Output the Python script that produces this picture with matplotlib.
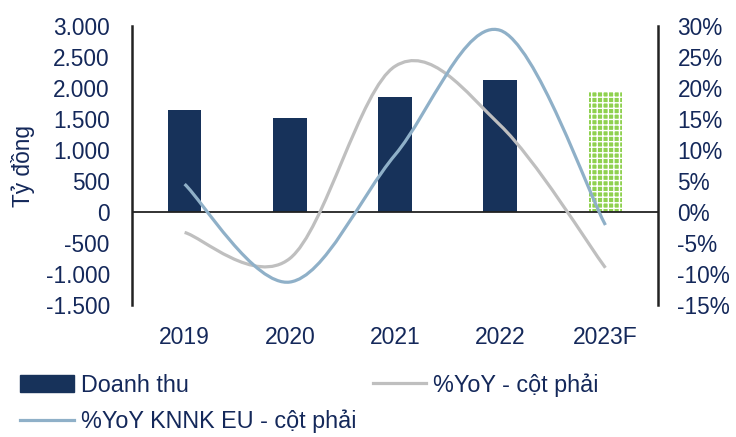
import matplotlib
matplotlib.use("Agg")
import matplotlib.pyplot as plt
from matplotlib.path import Path
from matplotlib.patches import PathPatch
from matplotlib.lines import Line2D
from matplotlib.patches import Patch
import numpy as np

plt.rcParams['font.family'] = ['Liberation Sans', 'DejaVu Sans']
plt.rcParams['hatch.linewidth'] = 1.0

# du lieu
years = ["2019", "2020", "2021", "2022", "2023F"]
doanh_thu = [1645, 1516, 1860, 2130, 1935]
yoy = [-3.3, -7.5, 23.5, 14.0, -9.0]
yoy_eu = [4.5, -11.3, 9.2, 29.3, -2.1]

left_ticks = [3000, 2500, 2000, 1500, 1000, 500, 0, -500, -1000, -1500]
left_labels = ["3.000", "2.500", "2.000", "1.500", "1.000", "500", "0",
               "-500", "-1.000", "-1.500"]
right_ticks = [30, 25, 20, 15, 10, 5, 0, -5, -10, -15]
right_labels = ["30%", "25%", "20%", "15%", "10%", "5%", "0%", "-5%", "-10%", "-15%"]

navy = '#17325A'
txt = '#14285A'
gray = '#BFBFBF'
blue = '#8FB0C8'
green = '#8FD14F'


def smooth_path(xs, ys):
    # duong cong kieu Excel (Bezier tu Catmull-Rom)
    pts = np.column_stack([xs, ys]).astype(float)
    n = len(pts)
    verts = [pts[0]]
    codes = [Path.MOVETO]
    for i in range(n - 1):
        p0 = pts[i - 1] if i > 0 else pts[i]
        p1 = pts[i]
        p2 = pts[i + 1]
        p3 = pts[i + 2] if i + 2 < n else pts[i + 1]
        c1 = p1 + (p2 - p0) / 6.0
        c2 = p2 - (p3 - p1) / 6.0
        verts += [c1, c2, p2]
        codes += [Path.CURVE4] * 3
    return Path(verts, codes)


fig = plt.figure(figsize=(7.36, 4.37), dpi=100)
ax = fig.add_axes([132 / 736, 1 - 305 / 437, 526 / 736, 279 / 437])

x = np.arange(len(years))
bars = ax.bar(x, doanh_thu, width=0.32, color=navy, zorder=2)
bars[-1].set_facecolor(green)
bars[-1].set_edgecolor('white')
bars[-1].set_hatch('+++')
bars[-1].set_linewidth(0)

ax.set_xlim(-0.5, len(years) - 0.5)
ax.set_ylim(-1500, 3000)
ax.set_yticks(left_ticks)
ax.set_yticklabels(left_labels)
ax.axhline(0, color='#222222', lw=1.3, zorder=3)

ax.set_xticks(x)
ax.set_xticklabels(years)
ax.tick_params(axis='x', length=0, pad=15, labelsize=16.5, labelcolor=txt)
ax.tick_params(axis='y', length=0, pad=16, labelsize=16.3, labelcolor=txt)
for s in ['top', 'bottom', 'right']:
    ax.spines[s].set_visible(False)
ax.spines['left'].set_linewidth(1.8)
ax.spines['left'].set_color('#222222')

ax2 = ax.twinx()
ax2.set_ylim(-15, 30)
ax2.set_yticks(right_ticks)
ax2.set_yticklabels(right_labels)
ax2.tick_params(axis='y', length=0, pad=14, labelsize=16.3, labelcolor=txt)
for s in ['top', 'bottom', 'left']:
    ax2.spines[s].set_visible(False)
ax2.spines['right'].set_linewidth(1.8)
ax2.spines['right'].set_color('#222222')

ax2.add_patch(PathPatch(smooth_path(x, yoy), fill=False, edgecolor=gray,
                        lw=2.3, capstyle='butt', zorder=4))
ax2.add_patch(PathPatch(smooth_path(x, yoy_eu), fill=False, edgecolor=blue,
                        lw=2.3, capstyle='butt', zorder=5))

fig.text(23 / 736, 1 - 166 / 437, "Tỷ đồng", rotation=90, ha='center',
         va='center', fontsize=16.3, color=txt)

handles = [Patch(facecolor=navy, edgecolor=navy),
           Line2D([], [], color=blue, lw=2.3),
           Line2D([], [], color=gray, lw=2.3)]
labels = ["Doanh thu", "%YoY KNNK EU - cột phải", "%YoY - cột phải"]
leg = fig.legend(handles, labels, ncol=2, loc='upper left',
                 bbox_to_anchor=(20 / 736, 1 - 373 / 437), frameon=False,
                 fontsize=16.8, handlelength=2.3, handleheight=0.75,
                 handletextpad=0.3, columnspacing=0.7, labelspacing=0.55,
                 borderpad=0, borderaxespad=0)
for t in leg.get_texts():
    t.set_color(txt)

fig.savefig("out.png", dpi=100)
